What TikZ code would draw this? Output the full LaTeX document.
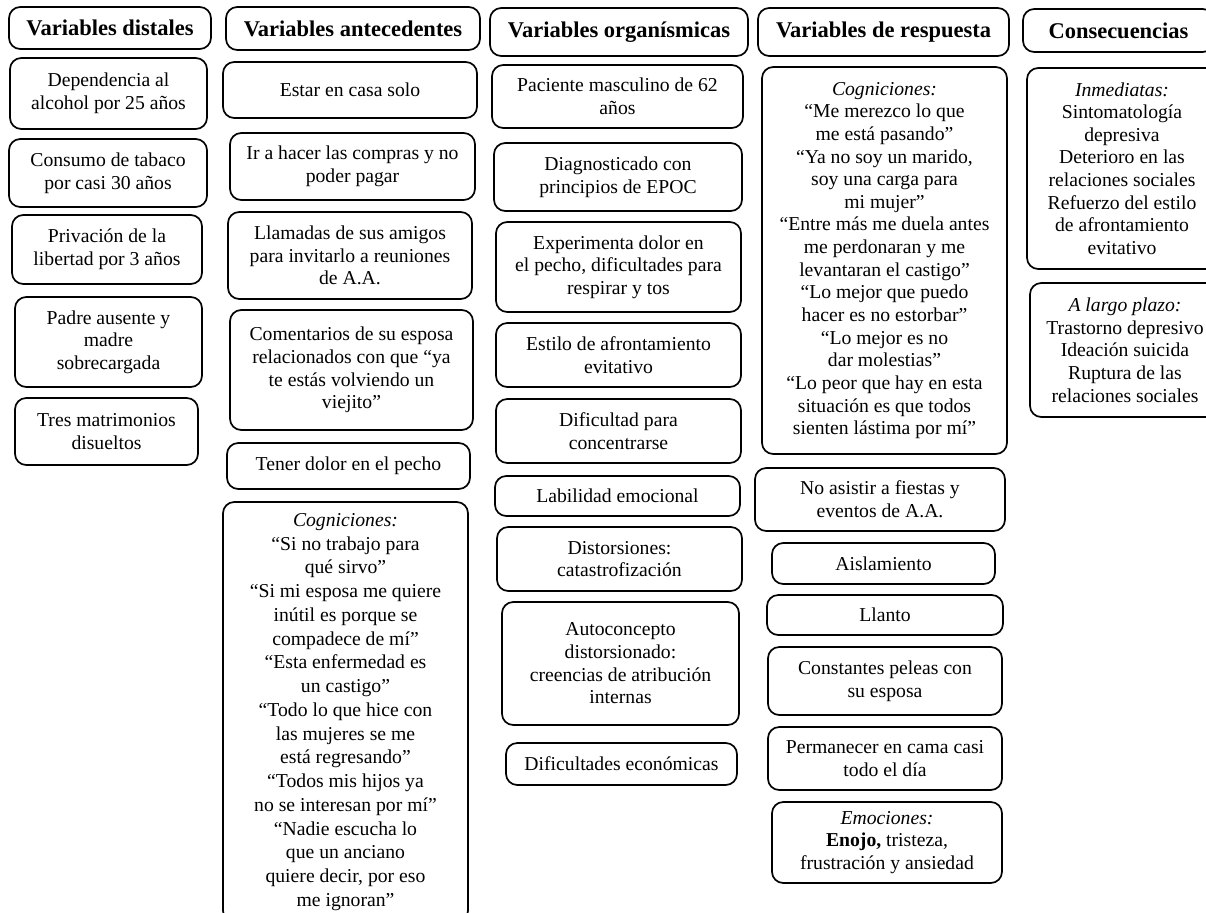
\documentclass[tikz,border=0pt]{standalone}
\usepackage{fontspec}
\setmainfont{Liberation Serif}
\usepackage{tikz}
\usetikzlibrary{positioning}

\begin{document}
\begin{tikzpicture}[
    caja/.style={rectangle,draw,rounded corners=8pt,line width=1.2pt,align=center,inner sep=2pt,font=\fontsize{14}{16.1}\selectfont},
    titulo/.style={caja,font=\fontsize{16}{19}\selectfont\bfseries}
]
    \useasboundingbox (0,0) rectangle (30.15,-22.825);

    % Variables distales
    \node[titulo,minimum width=5.05cm,minimum height=1.05cm] (tdist) at (2.75,-0.70) {Variables distales};
    \node[caja,minimum width=4.925cm,minimum height=1.775cm] (alcohol) at (2.7125,-2.3375) {Dependencia al\\alcohol por 25 años};
    \node[caja,minimum width=4.95cm,minimum height=1.70cm] (tabaco) at (2.70,-4.325) {Consumo de tabaco\\por casi 30 años};
    \node[caja,minimum width=4.75cm,minimum height=1.725cm] (privacion) at (2.675,-6.2375) {Privación de la\\libertad por 3 años};
    \node[caja,minimum width=4.675cm,minimum height=2.25cm] (padres) at (2.7125,-8.55) {Padre ausente y\\madre\\sobrecargada};
    \node[caja,minimum width=4.575cm,minimum height=1.675cm] (matrim) at (2.6625,-10.7875) {Tres matrimonios\\disueltos};

    % Variables antecedentes
    \node[titulo,minimum width=6.35cm,minimum height=1.075cm] (tante) at (8.825,-0.7125) {Variables antecedentes};
    \node[caja,minimum width=6.35cm,minimum height=1.40cm] (solo) at (8.75,-2.25) {Estar en casa solo};
    \node[caja,minimum width=6.125cm,minimum height=1.675cm] (compras) at (8.8125,-4.1625) {Ir a hacer las compras y no\\poder pagar};
    \node[caja,minimum width=6.10cm,minimum height=2.175cm] (llamadas) at (8.75,-6.3875) {Llamadas de sus amigos\\para invitarlo a reuniones\\de A.A.};
    \node[caja,minimum width=6.075cm,minimum height=3.00cm] (comentarios) at (8.7875,-9.25) {Comentarios de su esposa\\relacionados con que “ya\\te estás volviendo un\\viejito”};
    \node[caja,minimum width=6.075cm,minimum height=1.15cm] (pecho) at (8.7125,-11.65) {Tener dolor en el pecho};
    \node[caja,minimum width=6.125cm,minimum height=10.5cm,font=\fontsize{14}{16.9}\selectfont] (cogante) at (8.6375,-17.80) {\textit{Cogniciones:}\\“Si no trabajo para\\qué sirvo”\\“Si mi esposa me quiere\\inútil es porque se\\compadece de mí”\\“Esta enfermedad es\\un castigo”\\“Todo lo que hice con\\las mujeres se me\\está regresando”\\“Todos mis hijos ya\\no se interesan por mí”\\“Nadie escucha lo\\que un anciano\\quiere decir, por eso\\me ignoran”};

    % Variables organismicas
    \node[titulo,minimum width=6.45cm,minimum height=1.20cm] (torg) at (15.475,-0.80) {Variables organísmicas};
    \node[caja,minimum width=6.275cm,minimum height=1.575cm] (paciente) at (15.4375,-2.4125) {Paciente masculino de 62\\años};
    \node[caja,minimum width=6.2cm,minimum height=1.70cm] (epoc) at (15.45,-4.425) {Diagnosticado con\\principios de EPOC};
    \node[caja,minimum width=6.125cm,minimum height=2.25cm] (dolor) at (15.4625,-6.675) {Experimenta dolor en\\el pecho, dificultades para\\respirar y tos};
    \node[caja,minimum width=6.125cm,minimum height=1.6cm] (estilo) at (15.4625,-8.875) {Estilo de afrontamiento\\evitativo};
    \node[caja,minimum width=6.125cm,minimum height=1.6cm] (concentra) at (15.4625,-10.775) {Dificultad para\\concentrarse};
    \node[caja,minimum width=6.125cm,minimum height=1.0cm] (labilidad) at (15.4375,-12.4) {Labilidad emocional};
    \node[caja,minimum width=6.125cm,minimum height=1.6cm] (distorsion) at (15.4875,-13.975) {Distorsiones:\\catastrofización};
    \node[caja,minimum width=5.925cm,minimum height=3.075cm] (autocon) at (15.5125,-16.5875) {Autoconcepto\\distorsionado:\\creencias de atribución\\internas};
    \node[caja,minimum width=5.775cm,minimum height=1.05cm] (economia) at (15.5375,-19.10) {Dificultades económicas};

    % Variables de respuesta
    \node[titulo,minimum width=6.275cm,minimum height=1.2cm] (tresp) at (22.0875,-0.80) {Variables de respuesta};
    \node[caja,minimum width=6.125cm,minimum height=9.675cm] (cogresp) at (22.1125,-6.5125) {\textit{Cogniciones:}\\“Me merezco lo que\\me está pasando”\\“Ya no soy un marido,\\soy una carga para\\mi mujer”\\“Entre más me duela antes\\me perdonaran y me\\levantaran el castigo”\\“Lo mejor que puedo\\hacer es no estorbar”\\“Lo mejor es no\\dar molestias”\\“Lo peor que hay en esta\\situación es que todos\\sienten lástima por mí”};
    \node[caja,minimum width=6.25cm,minimum height=1.575cm] (fiestas) at (22.0,-12.4875) {No asistir a fiestas y\\eventos de A.A.};
    \node[caja,minimum width=5.575cm,minimum height=1.025cm] (aisla) at (22.0875,-14.0875) {Aislamiento};
    \node[caja,minimum width=5.9cm,minimum height=1.0cm] (llanto) at (22.125,-15.375) {Llanto};
    \node[caja,minimum width=5.85cm,minimum height=1.7cm] (peleas) at (22.125,-17.025) {Constantes peleas con\\su esposa};
    \node[caja,minimum width=5.85cm,minimum height=1.575cm] (cama) at (22.125,-18.9625) {Permanecer en cama casi\\todo el día};
    \node[caja,minimum width=5.75cm,minimum height=2.025cm] (emociones) at (22.175,-21.0625) {\textit{Emociones:}\\\textbf{Enojo,} tristeza,\\frustración y ansiedad};

    % Consecuencias
    \node[titulo,minimum width=4.775cm,minimum height=1.075cm] (tcons) at (27.9625,-0.7625) {Consecuencias};
    \node[caja,minimum width=4.75cm,minimum height=5.025cm] (inmediatas) at (28.05,-4.2125) {\textit{Inmediatas:}\\Sintomatología\\depresiva\\Deterioro en las\\relaciones sociales\\Refuerzo del estilo\\de afrontamiento\\evitativo};
    \node[caja,minimum width=4.75cm,minimum height=3.35cm] (plazo) at (28.125,-8.75) {\textit{A largo plazo:}\\Trastorno depresivo\\Ideación suicida\\Ruptura de las\\relaciones sociales};
\end{tikzpicture}
\end{document}
